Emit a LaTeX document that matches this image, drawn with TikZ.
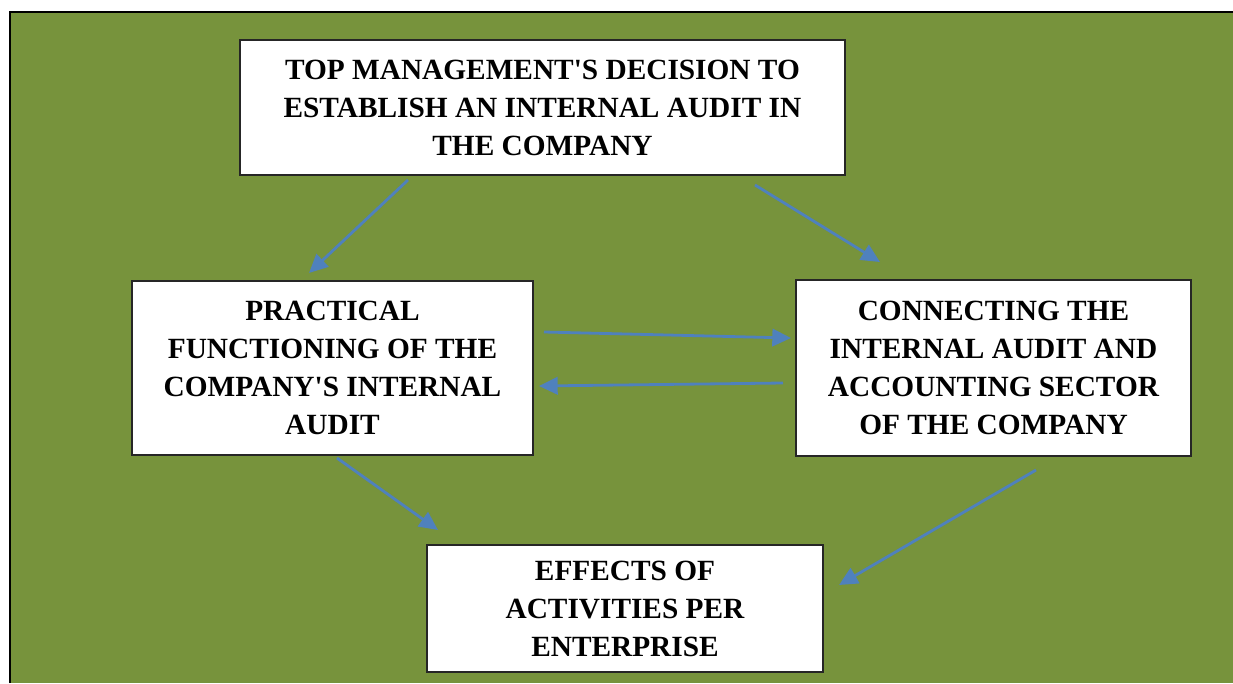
\documentclass[tikz,border=0pt]{standalone}
\usepackage{fontspec}
\setmainfont{Liberation Serif}
\usepackage{xcolor}
\usetikzlibrary{arrows.meta,calc}

\definecolor{olivebg}{HTML}{77933C}
\definecolor{arrowblue}{HTML}{4F81BD}

\tikzset{
	box/.style={draw=black!85, line width=1pt, fill=white, align=center, inner sep=0pt,
		font=\fontsize{22}{28.5}\selectfont\bfseries},
	flow/.style={draw=arrowblue, line width=2.1pt, -{Triangle[length=14pt,width=13pt]}}
}

\begin{document}
\begin{tikzpicture}[x=0.75pt, y=-0.75pt]
		\useasboundingbox (0,0) rectangle (1233,683);
		% background panel
		\fill[olivebg] (10,12) rectangle (1233,683);
		\draw[line width=1.6pt] (10,683) -- (10,12) -- (1233,12);
		% boxes
		\node[box, minimum width=453.75pt, minimum height=101.25pt] (top) at (542.5,107.5)
			{TOP MANAGEMENT\textquotesingle S DECISION TO\\ESTABLISH AN INTERNAL AUDIT IN\\THE COMPANY};
		\node[box, minimum width=300.75pt, minimum height=130.5pt] (prac) at (332.5,368)
			{PRACTICAL\\FUNCTIONING OF THE\\COMPANY\textquotesingle S INTERNAL\\AUDIT};
		\node[box, minimum width=296.25pt, minimum height=132pt] (conn) at (993.5,368)
			{CONNECTING THE\\INTERNAL AUDIT AND\\ACCOUNTING SECTOR\\OF THE COMPANY};
		\node[box, minimum width=297pt, minimum height=95.25pt] (eff) at (625,608.5)
			{EFFECTS OF\\ACTIVITIES PER\\ENTERPRISE};
		% arrow ends
		\coordinate (t1) at (408,180);
		\coordinate (p1) at (309,273);
		\coordinate (t2) at (755,185);
		\coordinate (c1) at (880,262);
		\coordinate (p2) at (544,332);
		\coordinate (c2) at (791,338);
		\coordinate (c3) at (783,383);
		\coordinate (p3) at (539,386);
		\coordinate (p4) at (337,458);
		\coordinate (e1) at (438,530);
		\coordinate (c4) at (1036,470);
		\coordinate (e2) at (839,585);
		\foreach \a/\b in {t1/p1, t2/c1, p2/c2, c3/p3, p4/e1, c4/e2}
		\draw[flow] (\a) -- (\b);
	\end{tikzpicture}
\end{document}
